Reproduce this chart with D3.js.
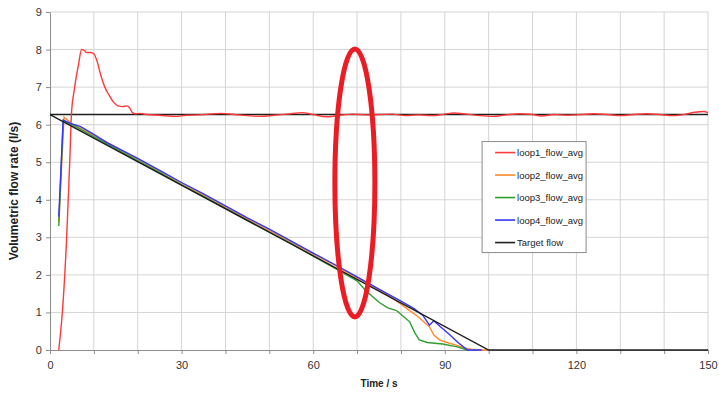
<!DOCTYPE html>
<html>
<head>
<meta charset="utf-8">
<script src="https://cdn.jsdelivr.net/npm/d3@7"></script>
<style>
  body { margin: 0; background: #fff; }
  .grid line { stroke: #d4d4d4; }
  .axis path, .axis line { stroke: #8c8c8c; }
  .axis text { font-family: "Liberation Sans Narrow", "Liberation Sans", Arial, sans-serif; font-size: 11px; fill: #333; }
  .line { fill: none; stroke-width: 1.4; }
</style>
</head>
<body>
<div id="graph"></div>
<script>
// Set the dimensions of the canvas / graph
var margin = { top: 12, right: 11, bottom: 44, left: 50 },
    width = 719 - margin.left - margin.right,
    height = 394 - margin.top - margin.bottom;

// Series data (time in s, flow in l/s)
var loop1T = [2, 3, 3.8, 4.5, 4.9, 5.5, 6.5, 7.2, 7.8, 8.3, 9.3, 10, 10.7, 11.5, 12.5, 13.5, 14.5, 15.5, 16.5, 17.5, 18, 18.8, 19.5, 20.5,
              22, 25, 28.5, 31, 34, 36, 39, 42, 45, 48, 51, 54, 57.5, 60, 63, 66, 69, 72, 75, 78, 81, 84, 87, 90, 92, 95, 98,
              101, 104, 107, 110, 112, 115, 118, 121, 124, 127, 130, 133, 136, 139, 142, 145, 147, 149, 150];
var loop1V = [0, 1.3, 3, 5, 6.3, 6.9, 7.6, 8.0, 7.98, 7.92, 7.92, 7.88, 7.7, 7.35, 7.0, 6.78, 6.6, 6.5, 6.48, 6.5, 6.47, 6.32, 6.29, 6.3,
              6.27, 6.25, 6.22, 6.25, 6.26, 6.28, 6.3, 6.27, 6.24, 6.22, 6.25, 6.28, 6.32, 6.27, 6.21, 6.25, 6.28, 6.26, 6.27, 6.28, 6.24, 6.26, 6.24, 6.28, 6.31, 6.28, 6.24,
              6.22, 6.26, 6.29, 6.27, 6.23, 6.27, 6.25, 6.27, 6.29, 6.27, 6.24, 6.27, 6.29, 6.27, 6.24, 6.28, 6.33, 6.35, 6.32];

var loop2T = [2, 3.2, 5, 10, 15, 20, 25, 30, 35, 40, 45, 50, 55, 60, 65, 70, 75, 78, 80, 82, 84, 85.5, 86.5, 87.5, 88.8, 90.5, 92.6, 94.9, 96, 98.5, 100];
var loop2V = [3.4, 6.2, 6.03, 5.72, 5.4, 5.08, 4.77, 4.44, 4.13, 3.8, 3.49, 3.18, 2.87, 2.55, 2.25, 1.92, 1.6, 1.38, 1.22, 1.05, 0.88, 0.72, 0.62, 0.4, 0.27, 0.2, 0.13, 0.04, 0.02, 0, 0];

var loop3T = [2, 3, 5, 10, 15, 20, 25, 30, 35, 40, 45, 50, 55, 60, 65, 68, 70, 72, 75, 77, 79, 80.5, 82, 83.2, 84.2, 86, 89.5, 92.6, 95.2];
var loop3V = [3.3, 6.1, 6.0, 5.68, 5.36, 5.04, 4.73, 4.4, 4.09, 3.77, 3.45, 3.14, 2.83, 2.5, 2.17, 1.97, 1.84, 1.58, 1.27, 1.12, 1.05, 0.9, 0.75, 0.45, 0.27, 0.2, 0.16, 0.09, 0];

var loop4T = [2, 3, 5, 7, 10, 13, 15, 20, 25, 30, 35, 40, 45, 50, 55, 60, 65, 70, 75, 80, 83, 85, 86.5, 87.5, 89, 91, 93, 95.2, 98.4];
var loop4V = [3.55, 6.12, 6.02, 5.95, 5.74, 5.52, 5.4, 5.1, 4.78, 4.46, 4.16, 3.84, 3.52, 3.22, 2.9, 2.58, 2.27, 1.95, 1.62, 1.3, 1.1, 0.92, 0.66, 0.78, 0.62, 0.42, 0.2, 0, 0];

var targetConstT = [0, 150];
var targetConstV = [6.27, 6.27];
var targetRampT = [0, 100, 150];
var targetRampV = [6.27, 0, 0];

var seriesNames = ["loop1_flow_avg", "loop2_flow_avg", "loop3_flow_avg", "loop4_flow_avg", "Target flow"];
var seriesColors = ["#ff3a3a", "#ff8a2e", "#2e9e2e", "#3535ff", "#1e1e1e"];

var xTicks = [0, 30, 60, 90, 120, 150];
var yTicks = [0, 1, 2, 3, 4, 5, 6, 7, 8, 9];

function pts(t, v) { return t.map(function(d, i) { return { t: d, v: v[i] }; }); }

// Set the ranges
var x = d3.scaleLinear().domain([0, 150]).range([0, width]);
var y = d3.scaleLinear().domain([0, 9]).range([height, 0]);

var valueline = d3.line()
    .x(function(d) { return x(d.t); })
    .y(function(d) { return y(d.v); });

var smoothline = d3.line()
    .curve(d3.curveMonotoneX)
    .x(function(d) { return x(d.t); })
    .y(function(d) { return y(d.v); });

var svg = d3.select("#graph")
    .append("svg")
        .attr("width", 719)
        .attr("height", 394)
    .append("g")
        .attr("transform", "translate(" + margin.left + "," + margin.top + ")");

// Grid
svg.append("g").attr("class", "grid")
    .selectAll("line").data(d3.range(10, 151, 10)).enter().append("line")
    .attr("x1", function(d) { return x(d); }).attr("x2", function(d) { return x(d); })
    .attr("y1", 0).attr("y2", height);
svg.append("g").attr("class", "grid")
    .selectAll("line").data(d3.range(1, 10)).enter().append("line")
    .attr("x1", 0).attr("x2", width)
    .attr("y1", function(d) { return y(d); }).attr("y2", function(d) { return y(d); });

// Axes
svg.append("g").attr("class", "axis")
    .attr("transform", "translate(0," + height + ")")
    .call(d3.axisBottom(x).tickValues(d3.range(0, 151, 10)).tickSize(4).tickSizeOuter(0)
        .tickFormat(function(d) { return xTicks.indexOf(d) >= 0 ? d : ""; }))
    .selectAll("text").attr("dy", "1.1em");
svg.append("g").attr("class", "axis")
    .call(d3.axisLeft(y).tickValues(yTicks).tickSize(4).tickSizeOuter(0))
    .selectAll("text").attr("dx", "-0.1em");

// Lines
var loops = [pts(loop1T, loop1V), pts(loop2T, loop2V), pts(loop3T, loop3V), pts(loop4T, loop4V)];
svg.append("path").datum(pts(targetConstT, targetConstV))
    .attr("class", "line").attr("stroke", seriesColors[4]).attr("d", valueline);
loops.forEach(function(d, i) {
    svg.append("path").datum(d)
        .attr("class", "line")
        .attr("stroke", seriesColors[i])
        .attr("d", i === 0 ? smoothline : valueline);
});
svg.append("path").datum(pts(targetRampT, targetRampV))
    .attr("class", "line").attr("stroke", seriesColors[4]).attr("d", valueline);

// Annotation ellipse
svg.append("ellipse")
    .attr("cx", x(69.5)).attr("cy", y(4.45))
    .attr("rx", 20).attr("ry", 134)
    .attr("fill", "none").attr("stroke", "#ec1c24").attr("stroke-width", 5);

// Legend
var lg = svg.append("g").attr("transform", "translate(" + (x(98.5)) + "," + (y(5.55)) + ")");
lg.append("rect").attr("width", 104).attr("height", 111)
    .attr("fill", "#fff").attr("stroke", "#8c8c8c");
seriesNames.forEach(function(n, i) {
    var yy = 11 + i * 22.5;
    lg.append("line").attr("x1", 13).attr("x2", 33).attr("y1", yy).attr("y2", yy)
        .attr("stroke", seriesColors[i]).attr("stroke-width", 1.6);
    lg.append("text").attr("x", 35).attr("y", yy + 3.5).text(n)
        .style("font-family", "'Liberation Sans Narrow', 'Liberation Sans', Arial, sans-serif")
        .style("font-size", "9.5px").style("fill", "#222");
});

// Axis titles
svg.append("text")
    .attr("x", width / 2).attr("y", height + 37)
    .attr("text-anchor", "middle")
    .style("font-family", "'Liberation Sans Narrow', 'Liberation Sans', Arial, sans-serif")
    .style("font-size", "10px").style("font-weight", "bold").style("fill", "#222")
    .text("Time / s");
svg.append("text")
    .attr("transform", "translate(" + (-32) + "," + (height / 2 + 10) + ") rotate(-90)")
    .attr("text-anchor", "middle")
    .style("font-family", "'Liberation Sans', Arial, sans-serif")
    .style("font-size", "12px").style("font-weight", "bold").style("fill", "#222")
    .text("Volumetric flow rate (l/s)");
</script>
</body>
</html>
